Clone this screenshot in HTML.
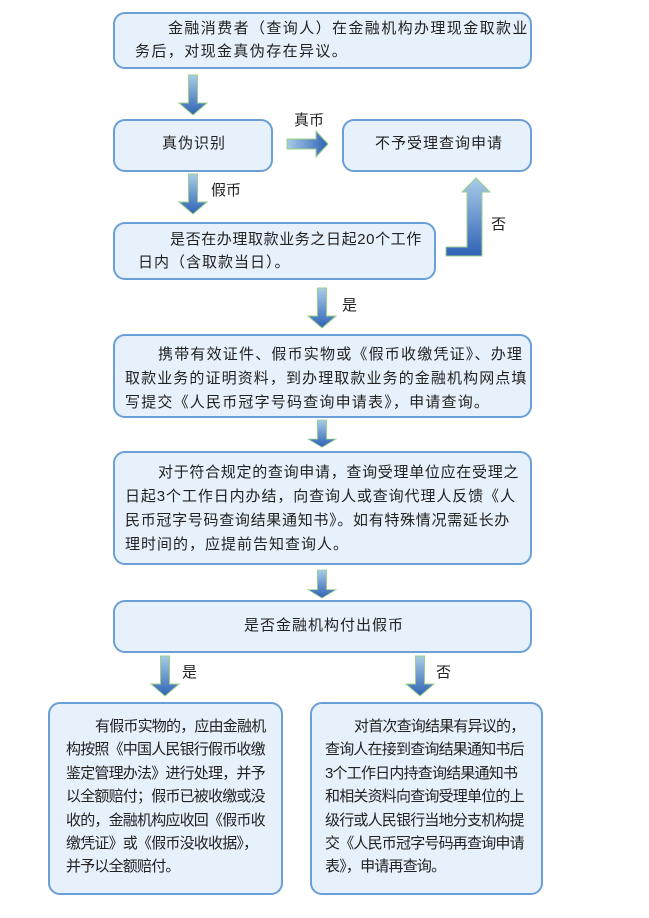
<!DOCTYPE html>
<html><head><meta charset="utf-8"><style>
body{margin:0;width:649px;height:918px;background:#fff;position:relative;overflow:hidden;font-family:"Liberation Sans","Noto Sans CJK SC",sans-serif;color:#222}
.b{position:absolute;background:#e7f1fb;border:2px solid #6b9fd8;border-radius:12px;box-sizing:border-box}
.t{position:absolute;white-space:nowrap;font-size:15px;line-height:18px}
svg{position:absolute;left:0;top:0}
</style></head><body>
<svg width="649" height="918">
<defs>
<linearGradient id="gv" x1="0" y1="0" x2="0" y2="1"><stop offset="0" stop-color="#a9cce8"/><stop offset="1" stop-color="#2f62b5"/></linearGradient>
<linearGradient id="gh" x1="0" y1="0" x2="1" y2="0"><stop offset="0" stop-color="#a9cce8"/><stop offset="1" stop-color="#2f62b5"/></linearGradient>
<linearGradient id="gu" x1="0" y1="1" x2="0" y2="0"><stop offset="0" stop-color="#2f62b5"/><stop offset="1" stop-color="#a9cce8"/></linearGradient>
<g id="da"><path d="M-4.5,0 H4.5 V28 H14 L0,40 L-14,28 H-4.5 Z" fill="url(#gv)" stroke="#9bd08a" stroke-width="1"/></g>
</defs>
<use href="#da" transform="translate(193,75)"/>
<use href="#da" transform="translate(193,174)"/>
<use href="#da" transform="translate(322,288)"/>
<use href="#da" transform="translate(322,420) scale(1,0.68)"/>
<use href="#da" transform="translate(322,570) scale(1,0.7)"/>
<use href="#da" transform="translate(165,656)"/>
<use href="#da" transform="translate(420,656)"/>
<path d="M287,139 H316 V131 L328,144 L316,157 V149 H287 Z" fill="url(#gh)" stroke="#9bd08a" stroke-width="1"/>
<path d="M446,256 V247 H467 V192 H462 L476,178 L490,192 H482 V256 Z" fill="url(#gu)" stroke="#9bd08a" stroke-width="1"/>
</svg>

<div class="b" style="left:113px;top:12px;width:419px;height:57px"></div>
<div class="t" style="left:168px;top:20px;letter-spacing:1.4px">金融消费者（查询人）在金融机构办理现金取款业</div>
<div class="t" style="left:135px;top:43px;letter-spacing:1.4px">务后，对现金真伪存在异议。</div>

<div class="b" style="left:113px;top:119px;width:160px;height:53px"></div>
<div class="t" style="left:162px;top:135px;letter-spacing:1px">真伪识别</div>
<div class="t" style="left:294px;top:112px">真币</div>

<div class="b" style="left:342px;top:119px;width:190px;height:53px"></div>
<div class="t" style="left:375px;top:135px;letter-spacing:1px">不予受理查询申请</div>

<div class="t" style="left:211px;top:182px">假币</div>

<div class="b" style="left:113px;top:222px;width:323px;height:58px"></div>
<div class="t" style="left:170px;top:231px;letter-spacing:0.6px">是否在办理取款业务之日起20个工作</div>
<div class="t" style="left:138px;top:254px;letter-spacing:1px">日内（含取款当日）。</div>
<div class="t" style="left:491px;top:216px">否</div>

<div class="t" style="left:342px;top:297px">是</div>

<div class="b" style="left:113px;top:334px;width:419px;height:84px"></div>
<div class="t" style="left:158px;top:346px;letter-spacing:1.2px">携带有效证件、假币实物或《假币收缴凭证》、办理</div>
<div class="t" style="left:125px;top:370px;letter-spacing:1.1px">取款业务的证明资料，到办理取款业务的金融机构网点填</div>
<div class="t" style="left:125px;top:394px;letter-spacing:1.2px">写提交《人民币冠字号码查询申请表》，申请查询。</div>

<div class="b" style="left:113px;top:451px;width:419px;height:114px"></div>
<div class="t" style="left:158px;top:464px;letter-spacing:0.7px">对于符合规定的查询申请，查询受理单位应在受理之</div>
<div class="t" style="left:125px;top:488px;letter-spacing:0.9px">日起3个工作日内办结，向查询人或查询代理人反馈《人</div>
<div class="t" style="left:125px;top:512px;letter-spacing:0.7px">民币冠字号码查询结果通知书》。如有特殊情况需延长办</div>
<div class="t" style="left:125px;top:536px;letter-spacing:1px">理时间的，应提前告知查询人。</div>

<div class="b" style="left:113px;top:600px;width:419px;height:53px"></div>
<div class="t" style="left:244px;top:617px;letter-spacing:1px">是否金融机构付出假币</div>

<div class="t" style="left:182px;top:664px">是</div>
<div class="t" style="left:436px;top:664px">否</div>

<div class="b" style="left:48px;top:702px;width:235px;height:193px"></div>
<div class="t" style="left:95px;top:718px;letter-spacing:-0.8px">有假币实物的，应由金融机</div>
<div class="t" style="left:66px;top:741px;letter-spacing:-0.8px">构按照《中国人民银行假币收缴</div>
<div class="t" style="left:66px;top:765px;letter-spacing:-0.8px">鉴定管理办法》进行处理，并予</div>
<div class="t" style="left:66px;top:788px;letter-spacing:-0.8px">以全额赔付；假币已被收缴或没</div>
<div class="t" style="left:66px;top:812px;letter-spacing:-0.8px">收的，金融机构应收回《假币收</div>
<div class="t" style="left:66px;top:835px;letter-spacing:-0.8px">缴凭证》或《假币没收收据》，</div>
<div class="t" style="left:66px;top:858px;letter-spacing:-0.8px">并予以全额赔付。</div>

<div class="b" style="left:310px;top:702px;width:233px;height:193px"></div>
<div class="t" style="left:354px;top:718px;letter-spacing:-0.8px">对首次查询结果有异议的，</div>
<div class="t" style="left:325px;top:741px;letter-spacing:-0.8px">查询人在接到查询结果通知书后</div>
<div class="t" style="left:325px;top:765px;letter-spacing:-0.8px">3个工作日内持查询结果通知书</div>
<div class="t" style="left:325px;top:788px;letter-spacing:-0.8px">和相关资料向查询受理单位的上</div>
<div class="t" style="left:325px;top:812px;letter-spacing:-0.8px">级行或人民银行当地分支机构提</div>
<div class="t" style="left:325px;top:835px;letter-spacing:-0.8px">交《人民币冠字号码再查询申请</div>
<div class="t" style="left:325px;top:858px;letter-spacing:-0.8px">表》，申请再查询。</div>
</body></html>
